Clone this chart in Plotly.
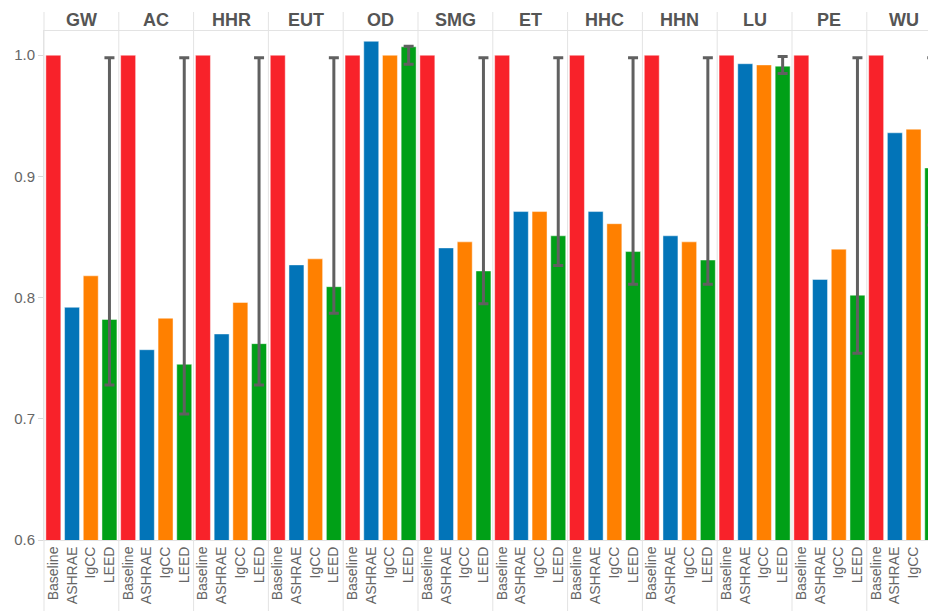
import plotly.graph_objects as go

# ---- data ----
categories = ["GW", "AC", "HHR", "EUT", "OD", "SMG", "ET", "HHC", "HHN", "LU", "PE", "WU"]
series = ["Baseline", "ASHRAE", "IgCC", "LEED"]
baseline = [1.0, 1.0, 1.0, 1.0, 1.0, 1.0, 1.0, 1.0, 1.0, 1.0, 1.0, 1.0]
ashrae = [0.792, 0.757, 0.770, 0.827, 1.0115, 0.841, 0.871, 0.871, 0.851, 0.993, 0.815, 0.936]
igcc = [0.818, 0.783, 0.796, 0.832, 1.0, 0.846, 0.871, 0.861, 0.846, 0.992, 0.840, 0.939]
leed = [0.782, 0.745, 0.762, 0.809, 1.007, 0.822, 0.851, 0.838, 0.831, 0.991, 0.802, 0.907]
leed_hi = [0.998, 0.998, 0.998, 0.998, 1.0075, 0.998, 0.998, 0.998, 0.998, 0.999, 0.998, 0.998]
leed_lo = [0.728, 0.704, 0.728, 0.787, 0.9925, 0.795, 0.8265, 0.811, 0.811, 0.985, 0.754, 0.860]
y_ticks = [0.6, 0.7, 0.8, 0.9, 1.0]
y_ticktext = ["0.6", "0.7", "0.8", "0.9", "1.0"]

colors = {"Baseline": "#f8222a", "ASHRAE": "#0274b8", "IgCC": "#ff8000", "LEED": "#00a017"}
values = {"Baseline": baseline, "ASHRAE": ashrae, "IgCC": igcc, "LEED": leed}

FONT = "Liberation Sans, Arial, sans-serif"

# ---- layout geometry ----
W, H = 928, 611
ml, mr, mt, mb = 44, 0, 31, 71
pw = W - ml - mr
ph = H - mt - mb
panel_px = 74.8
frac = panel_px / pw

fig = go.Figure()
layout_axes = {}
n = len(categories)
for i, cat in enumerate(categories):
    ax = "" if i == 0 else str(i + 1)
    for s in series:
        kw = {}
        if s == "LEED":
            kw["error_y"] = dict(
                type="data", symmetric=False,
                array=[leed_hi[i] - leed[i]],
                arrayminus=[leed[i] - leed_lo[i]],
                color="#606060", thickness=3, width=5,
            )
        fig.add_trace(go.Bar(
            x=[s], y=[values[s][i]], name=s,
            marker=dict(color=colors[s], line=dict(color="rgba(255,255,255,0.45)", width=1)),
            xaxis="x" + ax, yaxis="y", showlegend=False, **kw,
        ))
    d0 = i * frac
    d1 = min(1.0, (i + 1) * frac)
    span = (d1 - d0) * pw / panel_px * 4
    layout_axes["xaxis" + ax] = dict(
        domain=[d0, d1], anchor="y", type="category",
        categoryorder="array", categoryarray=series,
        range=[-0.5, -0.5 + span], automargin=False,
        tickangle=-90, showgrid=False, zeroline=False,
        showline=True, mirror=True, linecolor="#e3e3e3", linewidth=1,
        ticks="", tickfont=dict(family=FONT, size=14, color="#666666"),
    )
    # panel header
    fig.add_annotation(
        x=1.5, xref="x" + ax, y=1 + 11 / ph, yref="paper",
        text="<b>%s</b>" % cat, showarrow=False,
        font=dict(family=FONT, size=18, color="#555555"),
        xanchor="center", yanchor="middle",
    )

# separators
shapes = []
for i in range(n):
    xp = i * frac
    shapes.append(dict(
        type="line", xref="paper", yref="paper",
        x0=xp, x1=xp, y0=-mb / ph, y1=1 + (mt - 12) / ph,
        line=dict(color="#e3e3e3", width=1), layer="below",
    ))

fig.update_layout(
    width=W, height=H,
    margin=dict(l=ml, r=mr, t=mt, b=mb, autoexpand=False),
    paper_bgcolor="white", plot_bgcolor="white",
    barmode="overlay", bargap=0.2,
    shapes=shapes,
    yaxis=dict(
        domain=[0, 1], range=[0.6, 1.02], tickvals=y_ticks, ticktext=y_ticktext,
        automargin=False,
        showgrid=False, zeroline=False, showline=True, linecolor="#e3e3e3",
        ticks="outside", ticklen=5, tickcolor="#d9d9d9",
        tickfont=dict(family=FONT, size=15, color="#666666"),
    ),
    **layout_axes,
)

fig.write_html("out.html", config={"displayModeBar": False})

# remove the default page margin so the figure sits at the window origin
with open("out.html", "r", encoding="utf-8") as f:
    html = f.read()
html = html.replace("<head>", "<head><style>html,body{margin:0;padding:0;overflow:hidden;}</style>", 1)
with open("out.html", "w", encoding="utf-8") as f:
    f.write(html)
